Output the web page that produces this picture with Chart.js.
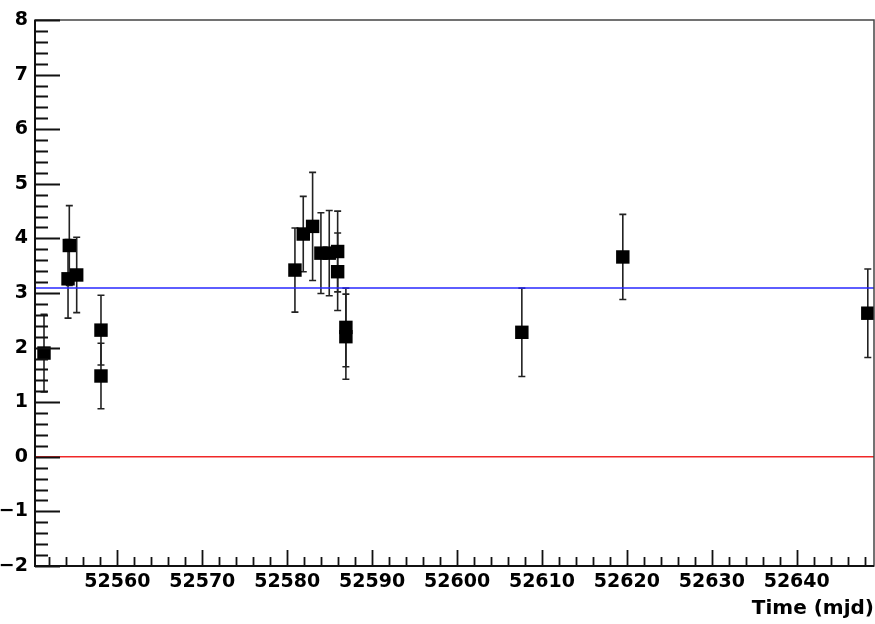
<!DOCTYPE html>
<html>
<head>
<meta charset="utf-8">
<script src="https://cdn.jsdelivr.net/npm/chart.js@4/dist/chart.umd.min.js"></script>
<style>
  html, body { margin: 0; padding: 0; background: #fff; }
  #wrap { width: 875px; height: 624px; }
</style>
</head>
<body>
<div id="wrap"><canvas id="c" width="875" height="624"></canvas></div>
<script>
// Light-curve measurements: observation time (MJD), value and 1-sigma error
const mjd = [52551.36, 52554.19, 52554.34, 52555.21, 52558.07, 52558.07,
             52580.91, 52581.89, 52582.99, 52583.97, 52584.95, 52585.94, 52585.94,
             52586.91, 52586.91, 52607.63, 52619.52, 52648.37];
const flux = [1.90, 3.26, 3.87, 3.33, 2.32, 1.48,
              3.42, 4.08, 4.22, 3.73, 3.73, 3.76, 3.39,
              2.37, 2.20, 2.28, 3.66, 2.63];
const fluxErr = [0.71, 0.72, 0.73, 0.69, 0.64, 0.60,
                 0.77, 0.69, 0.99, 0.74, 0.78, 0.74, 0.71,
                 0.72, 0.78, 0.81, 0.78, 0.81];

// Reference levels: fitted constant and zero
const meanLevel = 3.09;
const zeroLevel = 0;

// Axis ranges and labelled ticks
const xRange = [52550.3, 52649.1];
const yRange = [-2, 8];
const xTicks = [52560, 52570, 52580, 52590, 52600, 52610, 52620, 52630, 52640];
const yTicks = [-2, -1, 0, 1, 2, 3, 4, 5, 6, 7, 8];
const xMinorStep = 2;
const yMinorStep = 0.2;

const labelFont = { family: 'DejaVu Sans', weight: 'bold', size: 19 };

// Error bars with small end caps, drawn under the markers
const errorBars = {
  id: 'errorBars',
  beforeDatasetsDraw(chart) {
    const { ctx, scales: { x, y } } = chart;
    ctx.save();
    ctx.strokeStyle = '#222';
    ctx.lineWidth = 1.6;
    for (let i = 0; i < mjd.length; i++) {
      const px = x.getPixelForValue(mjd[i]);
      const top = y.getPixelForValue(flux[i] + fluxErr[i]);
      const bot = y.getPixelForValue(flux[i] - fluxErr[i]);
      ctx.beginPath();
      ctx.moveTo(px, top); ctx.lineTo(px, bot);
      ctx.moveTo(px - 3.5, top); ctx.lineTo(px + 3.5, top);
      ctx.moveTo(px - 3.5, bot); ctx.lineTo(px + 3.5, bot);
      ctx.stroke();
    }
    ctx.restore();
  }
};

// Frame and inward-pointing ticks on the left and bottom axes
const frameTicks = {
  id: 'frameTicks',
  afterDraw(chart) {
    const { ctx, chartArea: a, scales: { x, y } } = chart;
    ctx.save();
    ctx.strokeStyle = '#444';
    ctx.lineWidth = 1.5;
    ctx.strokeRect(a.left, a.top, a.right - a.left, a.bottom - a.top);

    ctx.strokeStyle = '#111';
    ctx.lineWidth = 2;
    ctx.beginPath();
    ctx.moveTo(a.left, a.top); ctx.lineTo(a.left, a.bottom); ctx.lineTo(a.right, a.bottom);
    ctx.stroke();

    ctx.lineWidth = 1.8;
    ctx.beginPath();
    // y axis: majors and minors
    for (let v = yRange[0]; v <= yRange[1] + 1e-9; v += yMinorStep) {
      const val = Math.round(v * 10) / 10;
      const py = Math.round(y.getPixelForValue(val)) + 0.5;
      const major = Math.abs(val - Math.round(val)) < 1e-6;
      ctx.moveTo(a.left, py);
      ctx.lineTo(a.left + (major ? 25 : 13), py);
    }
    // x axis: majors and minors
    const start = Math.ceil(xRange[0] / xMinorStep) * xMinorStep;
    for (let v = start; v <= xRange[1]; v += xMinorStep) {
      const px = Math.round(x.getPixelForValue(v)) + 0.5;
      const major = v % 10 === 0;
      ctx.moveTo(px, a.bottom);
      ctx.lineTo(px, a.bottom - (major ? 16 : 9));
    }
    ctx.stroke();
    ctx.restore();
  }
};

new Chart(document.getElementById('c'), {
  type: 'scatter',
  data: {
    datasets: [
      {
        label: 'flux',
        data: mjd.map((t, i) => ({ x: t, y: flux[i] })),
        pointStyle: 'rect',
        pointRadius: 9.5,
        pointHoverRadius: 9.5,
        backgroundColor: '#000',
        borderWidth: 0
      },
      {
        label: 'mean',
        type: 'line',
        data: [{ x: xRange[0], y: meanLevel }, { x: xRange[1], y: meanLevel }],
        borderColor: 'rgb(40,40,255)',
        borderWidth: 1.5,
        pointRadius: 0
      },
      {
        label: 'zero',
        type: 'line',
        data: [{ x: xRange[0], y: zeroLevel }, { x: xRange[1], y: zeroLevel }],
        borderColor: 'rgb(240,40,40)',
        borderWidth: 1.5,
        pointRadius: 0
      }
    ]
  },
  options: {
    responsive: false,
    devicePixelRatio: 1,
    animation: false,
    layout: { autoPadding: false, padding: { top: 20, right: 1, left: 0, bottom: 0 } },
    plugins: { legend: { display: false }, tooltip: { enabled: false } },
    scales: {
      x: {
        type: 'linear',
        min: xRange[0],
        max: xRange[1],
        afterBuildTicks: s => { s.ticks = xTicks.map(v => ({ value: v })); },
        afterFit: s => { s.height = 58; s.paddingLeft = 0; s.paddingRight = 0; },
        grid: { display: false, drawTicks: false },
        border: { display: false },
        ticks: {
          font: labelFont,
          color: '#000',
          padding: 5,
          maxRotation: 0,
          autoSkip: false,
          callback: v => String(v)
        },
        title: {
          display: true,
          text: 'Time (mjd)',
          align: 'end',
          color: '#000',
          font: { family: 'DejaVu Sans', weight: 'bold', size: 20, lineHeight: 1.2 },
          padding: { top: 0, bottom: 3 }
        }
      },
      y: {
        type: 'linear',
        min: yRange[0],
        max: yRange[1],
        afterBuildTicks: s => { s.ticks = yTicks.map(v => ({ value: v })); },
        afterFit: s => { s.width = 35; s.paddingTop = 0; s.paddingBottom = 0; },
        grid: { display: false, drawTicks: false },
        border: { display: false },
        ticks: {
          font: labelFont,
          color: '#000',
          padding: 7,
          autoSkip: false,
          callback: v => (v < 0 ? '\u2212' + Math.abs(v) : String(v))
        }
      }
    }
  },
  plugins: [errorBars, frameTicks]
});
</script>
</body>
</html>
